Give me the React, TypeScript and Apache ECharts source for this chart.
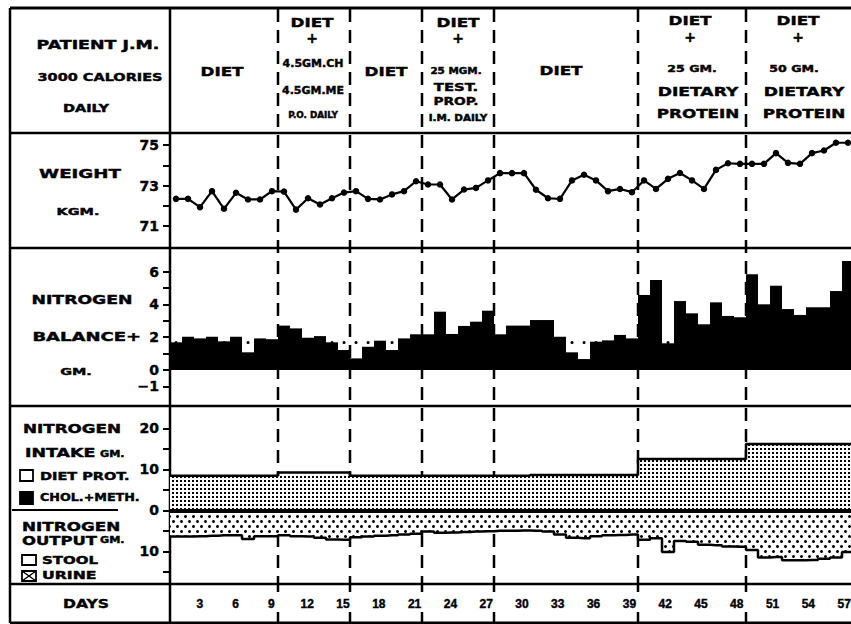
import React, { useEffect, useRef } from "react";
import * as echarts from "echarts";

// ---------- data ----------
const days = [1,2,3,4,5,6,7,8,9,10,11,12,13,14,15,16,17,18,19,20,21,22,23,24,25,26,27,28,29,30,31,32,33,34,35,36,37,38,39,40,41,42,43,44,45,46,47,48,49,50,51,52,53,54,55,56,57];

const weightKg = [72.34,72.34,71.93,72.72,71.85,72.64,72.31,72.31,72.72,72.70,
  71.81,72.37,72.06,72.37,72.65,72.72,72.34,72.31,72.56,72.72,
  73.21,73.05,73.05,72.31,72.80,72.88,73.25,73.61,73.61,73.61,
  72.79,72.37,72.34,73.25,73.53,73.25,72.72,72.83,72.67,73.25,
  72.83,73.33,73.62,73.25,72.83,73.77,74.10,74.07,74.07,74.07,
  74.60,74.12,74.07,74.60,74.73,75.11,75.11];

const nitrogenBalance = [1.69,2.03,1.93,2.03,1.75,2.03,1.08,1.93,1.88,2.71,
  2.54,1.97,2.07,1.69,1.22,0.71,1.42,1.79,1.22,1.93,
  2.18,2.18,3.56,2.20,2.69,2.95,3.62,2.18,2.71,2.71,
  3.05,3.05,2.03,1.08,0.67,1.73,1.81,2.14,1.93,4.58,
  5.49,1.63,4.21,3.46,2.79,4.13,3.30,3.22,5.84,4.01,
  5.15,3.72,3.36,3.83,3.83,4.82,6.65];

const balanceReference = 1.7;

const dietProtein = [8.4,8.4,8.4,8.4,8.4,8.4,8.4,8.4,8.4,8.4,
  8.4,8.4,8.4,8.4,8.4,8.4,8.4,8.4,8.4,8.4,
  8.4,8.4,8.4,8.4,8.4,8.4,8.4,8.4,8.4,8.4,
  8.6,8.6,8.6,8.6,8.6,8.6,8.6,8.6,8.6,12.5,
  12.5,12.5,12.5,12.5,12.5,12.5,12.5,12.5,16.2,16.2,
  16.2,16.2,16.2,16.2,16.2,16.2,16.2];

const cholMeth = [0,0,0,0,0,0,0,0,0,0.8,
  0.8,0.8,0.8,0.8,0.8,0,0,0,0,0,
  0,0,0,0,0,0,0,0,0,0,
  0,0,0,0,0,0,0,0,0,0,
  0,0,0,0,0,0,0,0,0,0,
  0,0,0,0,0,0,0];

const nitrogenOutput = [6.4,6.4,6.35,6.2,6.1,6.1,7.0,6.35,6.35,6.1,
  6.35,6.4,6.7,7.1,7.2,6.6,6.4,6.2,6.1,5.9,
  5.7,5.2,5.5,5.4,5.3,5.2,5.1,5.0,5.0,4.9,
  5.0,5.2,5.9,6.7,6.8,6.3,6.1,6.0,5.9,7.2,
  6.8,10.2,7.5,7.7,8.4,8.5,8.8,8.9,9.7,11.5,
  11.4,12.2,12.2,12.1,11.8,11.5,10.2];

const phaseBounds = [9.5, 15.5, 21.5, 27.5, 39.5, 48.5];

const weightTickLabels = [75, 73, 71];
const balanceTickLabels = [6, 4, 2, 0, -1];
const intakeTickLabels = [20, 10, 0, -10];

// ---------- helpers ----------
const FONT = '"DejaVu Sans", sans-serif';
const T = (text: string, x: number, y: number, size: number, sx = 1.4, align = "center") => ({
  type: "text", x, y, scaleX: sx, silent: true,
  style: { text, font: `bold ${size}px ${FONT}`, textAlign: align, textVerticalAlign: "middle", fill: "#000", stroke: "#000", lineWidth: 0.4 },
});
const L = (x1: number, y1: number, x2: number, y2: number, w = 2.5, dash?: number[]) => ({
  type: "line", silent: true, shape: { x1, y1, x2, y2 },
  style: { stroke: "#000", lineWidth: w, lineDash: dash },
});
const R = (x: number, y: number, w: number, h: number, fill: string) => ({
  type: "rect", silent: true, shape: { x, y, width: w, height: h },
  style: { fill, stroke: "#000", lineWidth: 1.8 },
});

const padStep = (vals: number[], sign = 1) => {
  const pts: number[][] = [[0.5, sign * vals[0]]];
  vals.forEach((v, i) => pts.push([days[i], sign * v]));
  pts.push([57.5, sign * vals[vals.length - 1]]);
  return pts;
};

const axisLabelBase = { fontSize: 14, fontWeight: "bold", fontFamily: FONT, color: "#000", margin: 11, textBorderColor: "#000", textBorderWidth: 0.4 };
const axisTickBase = { show: true, length: 7, lineStyle: { color: "#000", width: 2 } };

const fineDecal = { symbol: "rect", symbolSize: 1, color: "#000", dashArrayX: [1.3, 1.7], dashArrayY: [1.3, 1.7], rotation: 0 };
const coarseDecal = { symbol: "circle", symbolSize: 1, color: "#000", dashArrayX: [[3, 5], [0, 4, 3, 1]], dashArrayY: [3, 2], rotation: 0 };

const hiddenX = (gridIndex: number) => ({ type: "value", gridIndex, min: 0.5, max: 57.5, show: false });

const option: any = {
  animation: false,
  backgroundColor: "#fff",
  grid: [
    { left: 170, right: 0, top: 145, height: 81 },
    { left: 170, right: 0, top: 271.7, height: 114.7 },
    { left: 170, right: 0, top: 428.3, height: 143.5 },
    { left: 170, right: 0, top: 584, height: 39 },
  ],
  xAxis: [
    hiddenX(0), hiddenX(1), hiddenX(2),
    {
      type: "category", gridIndex: 3, position: "top", data: days.map(String), boundaryGap: true,
      axisLine: { show: false },
      axisTick: { show: true, inside: true, alignWithLabel: true, length: 7, lineStyle: { color: "#000", width: 2 },
        interval: (i: number) => days[i] % 3 === 0 },
      axisLabel: { inside: true, margin: 14, fontSize: 12, fontWeight: "bold", fontFamily: '"Liberation Sans", sans-serif', color: "#000",
        textBorderColor: "#000", textBorderWidth: 0.4,
        interval: (i: number) => days[i] % 3 === 0 },
      splitLine: { show: false },
    },
  ],
  yAxis: [
    {
      type: "value", gridIndex: 0, min: 71, max: 75, interval: 1,
      axisLine: { show: false }, axisTick: axisTickBase, splitLine: { show: false },
      axisLabel: { ...axisLabelBase, formatter: (v: number) => (weightTickLabels.includes(v) ? String(v) : "") },
    },
    {
      type: "value", gridIndex: 1, min: -1, max: 6, interval: 1,
      axisLine: { show: false }, axisTick: axisTickBase, splitLine: { show: false },
      axisLabel: { ...axisLabelBase, formatter: (v: number) => (balanceTickLabels.includes(v) ? (v < 0 ? "\u2212" + Math.abs(v) : String(v)) : "") },
    },
    {
      type: "value", gridIndex: 2, min: -15, max: 20, interval: 5,
      axisLine: { show: false }, axisTick: axisTickBase, splitLine: { show: false },
      axisLabel: { ...axisLabelBase, formatter: (v: number) => (intakeTickLabels.includes(v) ? String(Math.abs(v)) : "") },
    },
    { type: "value", gridIndex: 3, show: false },
  ],
  series: [
    {
      name: "Weight", type: "line", xAxisIndex: 0, yAxisIndex: 0, clip: false,
      data: weightKg.map((w, i) => [days[i], w]),
      symbol: "circle", symbolSize: 6.5, itemStyle: { color: "#000" }, lineStyle: { color: "#000", width: 2.2 },
    },
    {
      name: "Nitrogen balance", type: "bar", xAxisIndex: 1, yAxisIndex: 1, clip: false, barWidth: 12,
      data: nitrogenBalance.map((v, i) => [days[i], v]),
      itemStyle: { color: "#000" },
      markLine: {
        silent: true, symbol: "none", label: { show: false },
        lineStyle: { color: "#000", width: 3, type: [0.1, 11.9], cap: "round", dashOffset: -6 },
        data: [{ yAxis: balanceReference }],
      },
    },
    {
      name: "DIET PROT.", type: "bar", xAxisIndex: 2, yAxisIndex: 2, stack: "intake", barWidth: 12, barGap: "-100%",
      data: dietProtein.map((v, i) => [days[i], v]),
      itemStyle: { color: "#fff", decal: fineDecal },
    },
    {
      name: "CHOL.+METH.", type: "bar", xAxisIndex: 2, yAxisIndex: 2, stack: "intake", barWidth: 12, barGap: "-100%",
      data: cholMeth.map((v, i) => [days[i], v]),
      itemStyle: { color: "#fff", decal: fineDecal },
    },
    {
      name: "URINE", type: "bar", xAxisIndex: 2, yAxisIndex: 2, stack: "output", barWidth: 12, barGap: "-100%",
      data: nitrogenOutput.map((v, i) => [days[i], -v]),
      itemStyle: { color: "#fff", decal: coarseDecal },
    },
    {
      name: "Intake outline", type: "line", xAxisIndex: 2, yAxisIndex: 2, step: "middle", symbol: "none", clip: false,
      data: padStep(dietProtein.map((v, i) => v + cholMeth[i])),
      lineStyle: { color: "#000", width: 2.5 },
      markLine: {
        silent: true, symbol: "none", label: { show: false },
        lineStyle: { color: "#000", width: 4, type: "solid" },
        data: [{ yAxis: 0 }],
      },
    },
    {
      name: "Output outline", type: "line", xAxisIndex: 2, yAxisIndex: 2, step: "middle", symbol: "none", clip: false,
      data: padStep(nitrogenOutput, -1),
      lineStyle: { color: "#000", width: 2.5 },
    },
  ],
};

const staticGraphics: any[] = [
  // frame
  L(10, 8, 854, 8, 3), L(10, 133, 854, 133, 2.5), L(10, 248, 854, 248, 2.5), L(10, 406, 854, 406, 2.5),
  L(10, 584, 854, 584, 2.5), L(10, 623, 854, 623, 3), L(10, 8, 10, 623, 2.5), L(170, 8, 170, 623, 2.5),
  L(12, 510, 118, 510, 2),
  // header
  T("PATIENT J.M.", 98, 45, 12, 1.45), T("3000 CALORIES", 100, 77, 10, 1.45), T("DAILY", 86, 108, 10, 1.45),
  T("DIET", 222, 71, 12, 1.4),
  T("DIET", 312, 22, 12, 1.4), T("+", 312, 38, 14, 1), T("4.5GM.CH", 313, 63, 10, 1.1), T("4.5GM.ME", 313, 90, 10, 1.1), T("P.O. DAILY", 313, 115, 8, 1.1),
  T("DIET", 386, 71, 12, 1.4),
  T("DIET", 458, 22, 12, 1.4), T("+", 458, 38, 14, 1), T("25 MGM.", 456, 71, 8, 1.3), T("TEST.", 456, 87, 11, 1.35), T("PROP.", 456, 101, 11, 1.25), T("I.M. DAILY", 458, 118, 8, 1.3),
  T("DIET", 561, 70, 12, 1.4),
  T("DIET", 690, 20, 12, 1.4), T("+", 690, 37, 14, 1), T("25 GM.", 692, 69, 9, 1.4), T("DIETARY", 698, 92, 12, 1.43), T("PROTEIN", 698, 113, 12, 1.4),
  T("DIET", 798, 20, 12, 1.4), T("+", 798, 37, 14, 1), T("50 GM.", 794, 69, 9, 1.4), T("DIETARY", 804, 92, 12, 1.43), T("PROTEIN", 804, 113, 12, 1.4),
  // left labels
  T("WEIGHT", 80, 173, 13, 1.4), T("KGM.", 78, 212, 9, 1.6),
  T("NITROGEN", 82, 300, 12, 1.44), T("BALANCE+", 141, 337, 12, 1.5, "right"), T("GM.", 76, 372, 9, 1.6),
  T("NITROGEN", 72, 428, 12, 1.4), T("INTAKE", 25, 453, 12, 1.45, "left"), T("GM.", 100, 454, 8, 1.4, "left"),
  R(20, 470, 13, 11, "#fff"), T("DIET PROT.", 40, 476, 10, 1.45, "left"),
  R(20, 492, 13, 12, "#000"), T("CHOL.+METH.", 40, 498, 10, 1.27, "left"),
  T("NITROGEN", 22, 526, 12, 1.4, "left"), T("OUTPUT", 22, 541, 12, 1.37, "left"), T("GM.", 100, 540, 8, 1.4, "left"),
  R(22, 555, 14, 10, "#fff"), T("STOOL", 42, 560, 10, 1.5, "left"),
  R(22, 571, 14, 10, "#fff"), L(22, 571, 36, 581, 1.5), L(36, 571, 22, 581, 1.5), T("URINE", 42, 576, 10, 1.57, "left"),
  T("DAYS", 86, 604, 12, 1.3),
];

export default function App() {
  const ref = useRef<HTMLDivElement>(null);
  useEffect(() => {
    const chart = echarts.init(ref.current!, null, { renderer: "svg" });
    chart.setOption(option);
    const xs = phaseBounds.map((b) => chart.convertToPixel({ xAxisIndex: 0 }, b) as number);
    const dashes: any[] = [];
    xs.forEach((x) => {
      dashes.push(L(x, 9, x, 584, 2.5, [13, 8]));
      dashes.push(L(x, 584, x, 592, 2.5));
      dashes.push(L(x, 612, x, 622, 2.5));
    });
    chart.setOption({ graphic: [...staticGraphics, ...dashes] });
    return () => chart.dispose();
  }, []);
  return (
    <div style={{ position: "absolute", left: 0, top: 0, width: 851, height: 624, overflow: "hidden", background: "#fff" }}>
      <div ref={ref} style={{ width: 854, height: 624 }} />
    </div>
  );
}
